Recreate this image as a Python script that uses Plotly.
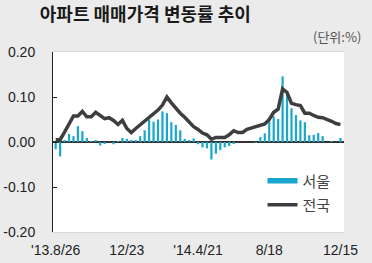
import plotly.graph_objects as go

# weekly data points (holiday weeks skipped) from '13.8/26 to 12/15
idx = list(range(65))
tick_idx = [0, 16, 32, 48, 64]
tick_labels = ["'13.8/26", "12/23", "'14.4/21", "8/18", "12/15"]

seoul = [-0.016, -0.032, 0.003, 0.018, 0.013, 0.035, 0.024, 0.009, 0.002, 0.003,
         -0.008, -0.004, 0.0, -0.005, 0.001, 0.009, 0.007, 0.003, 0.004, 0.013,
         0.026, 0.050, 0.045, 0.050, 0.068, 0.064, 0.044, 0.038, 0.026, 0.007,
         0.004, 0.008, -0.005, -0.012, -0.014, -0.039, -0.026, -0.018, -0.012, -0.009,
         -0.003, 0.0, 0.0, 0.0, 0.0, -0.002, 0.011, 0.019, 0.048, 0.057,
         0.051, 0.146, 0.106, 0.075, 0.060, 0.048, 0.044, 0.015, 0.016, 0.020,
         0.013, 0.0, 0.001, 0.0, 0.009]

national = [0.005, 0.005, 0.022, 0.042, 0.058, 0.058, 0.068, 0.056, 0.056, 0.066,
            0.058, 0.052, 0.054, 0.048, 0.039, 0.048, 0.030, 0.021, 0.030, 0.038,
            0.046, 0.055, 0.064, 0.071, 0.082, 0.100, 0.087, 0.075, 0.064, 0.055,
            0.045, 0.034, 0.028, 0.020, 0.016, 0.006, 0.010, 0.010, 0.010, 0.016,
            0.025, 0.021, 0.021, 0.028, 0.031, 0.033, 0.037, 0.040, 0.050, 0.066,
            0.073, 0.118, 0.110, 0.086, 0.083, 0.081, 0.064, 0.064, 0.059, 0.055,
            0.054, 0.051, 0.046, 0.041, 0.039]

y_ticks = [0.20, 0.10, 0.00, -0.10, -0.20]
y_labels = ["0.20", "0.10", "0.00", "-0.10", "-0.20"]

BAR_C = "#1ba6cc"
LINE_C = "#3e3e3e"
FONT = "Liberation Sans, Arial, sans-serif"
KFONT = "Noto Sans CJK KR, sans-serif"

fig = go.Figure()
fig.add_trace(go.Bar(x=idx, y=seoul, marker=dict(color=BAR_C, line=dict(width=0)),
                     width=0.5, showlegend=False))
fig.add_trace(go.Scatter(x=idx, y=national, mode="lines",
                         line=dict(color=LINE_C, width=3.5), name="전국",
                         legend="legend2"))
# legend-only swatch for 서울
fig.add_trace(go.Scatter(x=[None], y=[None], mode="lines",
                         line=dict(color=BAR_C, width=5.5), name="서울",
                         legend="legend"))

fig.update_layout(
    width=372, height=263,
    margin=dict(l=53, r=28, t=52, b=31),
    paper_bgcolor="#ebebeb", plot_bgcolor="white",
    bargap=0.5,
    title=dict(text="<b>아파트 매매가격 변동률 추이</b>", x=0.107, xanchor="left",
               y=0.945, yanchor="middle",
               font=dict(family=KFONT, size=18, color="#1a1a1a")),
    legend=dict(x=0.72, y=0.283, xanchor="left", yanchor="middle",
                bgcolor="rgba(0,0,0,0)", font=dict(family=KFONT, size=15, color="#444")),
    legend2=dict(x=0.72, y=0.15, xanchor="left", yanchor="middle",
                 bgcolor="rgba(0,0,0,0)", font=dict(family=KFONT, size=15, color="#444")),
    annotations=[dict(text="(단위:%)", xref="paper", yref="paper", x=1.065, y=1.085,
                      xanchor="right", yanchor="middle", showarrow=False,
                      font=dict(family=KFONT, size=13, color="#555"))],
)
fig.update_xaxes(range=[-0.6, 64.8], tickmode="array", tickvals=tick_idx,
                 ticktext=tick_labels, ticks="", showgrid=False, zeroline=False,
                 showline=True, linecolor="#d8d8d8", linewidth=1, mirror=True,
                 ticklabelstandoff=5, automargin=False,
                 tickfont=dict(family=FONT, size=14, color="#222"))
fig.update_yaxes(range=[-0.20, 0.20], tickmode="array", tickvals=y_ticks,
                 ticktext=y_labels, ticks="inside", ticklen=4, tickcolor="#222",
                 showgrid=False, zeroline=True, zerolinecolor="#333", zerolinewidth=1.5,
                 showline=True, linecolor="#222", linewidth=1,
                 ticklabelstandoff=14, automargin=False,
                 tickfont=dict(family=FONT, size=14, color="#222"))

fig.write_html("out.html")
